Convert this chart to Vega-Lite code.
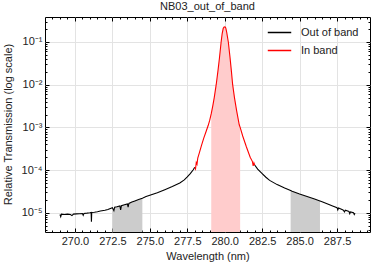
{
  "$schema": "https://vega.github.io/schema/vega-lite/v6.json",
  "width": 325,
  "height": 215,
  "autosize": {"type": "none"},
  "padding": {"left": 45, "top": 17, "right": 4, "bottom": 33},
  "background": "white",
  "config": {
    "font": "Liberation Sans",
    "view": {"stroke": "black", "strokeWidth": 1},
    "axis": {"labelFont": "Liberation Sans", "titleFont": "Liberation Sans", "labelColor": "#222", "titleColor": "#222", "titleFontWeight": "normal"}
  },
  "title": {"text": "NB03_out_of_band", "fontSize": 11, "fontWeight": "normal", "font": "Liberation Sans", "color": "#222", "baseline": "alphabetic", "offset": 5, "dy": 9},
  "data": {"values": [
    {"wl": 269.0, "t": 9.1e-6, "seg": "L", "band": "Out of band"},
    {"wl": 269.05, "t": 8.1e-6, "seg": "L", "band": "Out of band"},
    {"wl": 269.1, "t": 9.3e-6, "seg": "L", "band": "Out of band"},
    {"wl": 269.3, "t": 9.1e-6, "seg": "L", "band": "Out of band"},
    {"wl": 269.5, "t": 9.3e-6, "seg": "L", "band": "Out of band"},
    {"wl": 269.7, "t": 9.1e-6, "seg": "L", "band": "Out of band"},
    {"wl": 269.8, "t": 8.6e-6, "seg": "L", "band": "Out of band"},
    {"wl": 269.9, "t": 9.3e-6, "seg": "L", "band": "Out of band"},
    {"wl": 270.1, "t": 9.45e-6, "seg": "L", "band": "Out of band"},
    {"wl": 270.3, "t": 9.5e-6, "seg": "L", "band": "Out of band"},
    {"wl": 270.5, "t": 9.55e-6, "seg": "L", "band": "Out of band"},
    {"wl": 270.55, "t": 8.7e-6, "seg": "L", "band": "Out of band"},
    {"wl": 270.6, "t": 9.65e-6, "seg": "L", "band": "Out of band"},
    {"wl": 270.8, "t": 9.8e-6, "seg": "L", "band": "Out of band"},
    {"wl": 271.0, "t": 1.0e-5, "seg": "L", "band": "Out of band"},
    {"wl": 271.08, "t": 1.02e-5, "seg": "L", "band": "Out of band"},
    {"wl": 271.1, "t": 6.2e-6, "seg": "L", "band": "Out of band"},
    {"wl": 271.12, "t": 1.02e-5, "seg": "L", "band": "Out of band"},
    {"wl": 271.3, "t": 1.03e-5, "seg": "L", "band": "Out of band"},
    {"wl": 271.5, "t": 1.06e-5, "seg": "L", "band": "Out of band"},
    {"wl": 271.7, "t": 1.1e-5, "seg": "L", "band": "Out of band"},
    {"wl": 272.0, "t": 1.15e-5, "seg": "L", "band": "Out of band"},
    {"wl": 272.2, "t": 1.2e-5, "seg": "L", "band": "Out of band"},
    {"wl": 272.5, "t": 1.32e-5, "seg": "L", "band": "Out of band"},
    {"wl": 272.6, "t": 1.12e-5, "seg": "L", "band": "Out of band"},
    {"wl": 272.65, "t": 1.35e-5, "seg": "L", "band": "Out of band"},
    {"wl": 272.8, "t": 1.38e-5, "seg": "L", "band": "Out of band"},
    {"wl": 273.0, "t": 1.45e-5, "seg": "L", "band": "Out of band"},
    {"wl": 273.05, "t": 1.17e-5, "seg": "L", "band": "Out of band"},
    {"wl": 273.1, "t": 1.46e-5, "seg": "L", "band": "Out of band"},
    {"wl": 273.3, "t": 1.55e-5, "seg": "L", "band": "Out of band"},
    {"wl": 273.5, "t": 1.62e-5, "seg": "L", "band": "Out of band"},
    {"wl": 273.55, "t": 1.35e-5, "seg": "L", "band": "Out of band"},
    {"wl": 273.6, "t": 1.66e-5, "seg": "L", "band": "Out of band"},
    {"wl": 273.8, "t": 1.78e-5, "seg": "L", "band": "Out of band"},
    {"wl": 274.0, "t": 1.9e-5, "seg": "L", "band": "Out of band"},
    {"wl": 274.25, "t": 2.04e-5, "seg": "L", "band": "Out of band"},
    {"wl": 274.5, "t": 2.2e-5, "seg": "L", "band": "Out of band"},
    {"wl": 274.75, "t": 2.4e-5, "seg": "L", "band": "Out of band"},
    {"wl": 275.0, "t": 2.57e-5, "seg": "L", "band": "Out of band"},
    {"wl": 275.5, "t": 2.95e-5, "seg": "L", "band": "Out of band"},
    {"wl": 276.0, "t": 3.47e-5, "seg": "L", "band": "Out of band"},
    {"wl": 276.5, "t": 4.12e-5, "seg": "L", "band": "Out of band"},
    {"wl": 277.0, "t": 5.0e-5, "seg": "L", "band": "Out of band"},
    {"wl": 277.3, "t": 5.9e-5, "seg": "L", "band": "Out of band"},
    {"wl": 277.5, "t": 6.9e-5, "seg": "L", "band": "Out of band"},
    {"wl": 277.7, "t": 8.3e-5, "seg": "L", "band": "Out of band"},
    {"wl": 277.9, "t": 1.02e-4, "seg": "L", "band": "Out of band"},
    {"wl": 278.0, "t": 1.17e-4, "seg": "L", "band": "Out of band"},
    {"wl": 278.0, "t": 1.17e-4, "seg": "M", "band": "In band"},
    {"wl": 278.05, "t": 1.07e-4, "seg": "M", "band": "In band"},
    {"wl": 278.1, "t": 1.51e-4, "seg": "M", "band": "In band"},
    {"wl": 278.15, "t": 1.38e-4, "seg": "M", "band": "In band"},
    {"wl": 278.2, "t": 1.9e-4, "seg": "M", "band": "In band"},
    {"wl": 278.3, "t": 2.5e-4, "seg": "M", "band": "In band"},
    {"wl": 278.45, "t": 3.8e-4, "seg": "M", "band": "In band"},
    {"wl": 278.6, "t": 5.6e-4, "seg": "M", "band": "In band"},
    {"wl": 278.75, "t": 7.9e-4, "seg": "M", "band": "In band"},
    {"wl": 278.9, "t": 1.12e-3, "seg": "M", "band": "In band"},
    {"wl": 279.0, "t": 1.48e-3, "seg": "M", "band": "In band"},
    {"wl": 279.1, "t": 2.1e-3, "seg": "M", "band": "In band"},
    {"wl": 279.2, "t": 3.16e-3, "seg": "M", "band": "In band"},
    {"wl": 279.3, "t": 5.0e-3, "seg": "M", "band": "In band"},
    {"wl": 279.43, "t": 1.0e-2, "seg": "M", "band": "In band"},
    {"wl": 279.55, "t": 2.14e-2, "seg": "M", "band": "In band"},
    {"wl": 279.65, "t": 4.27e-2, "seg": "M", "band": "In band"},
    {"wl": 279.76, "t": 0.1, "seg": "M", "band": "In band"},
    {"wl": 279.83, "t": 0.158, "seg": "M", "band": "In band"},
    {"wl": 279.9, "t": 0.209, "seg": "M", "band": "In band"},
    {"wl": 279.96, "t": 0.224, "seg": "M", "band": "In band"},
    {"wl": 280.02, "t": 0.2265, "seg": "M", "band": "In band"},
    {"wl": 280.07, "t": 0.214, "seg": "M", "band": "In band"},
    {"wl": 280.13, "t": 0.17, "seg": "M", "band": "In band"},
    {"wl": 280.24, "t": 0.1, "seg": "M", "band": "In band"},
    {"wl": 280.35, "t": 0.0447, "seg": "M", "band": "In band"},
    {"wl": 280.45, "t": 0.02, "seg": "M", "band": "In band"},
    {"wl": 280.53, "t": 0.01, "seg": "M", "band": "In band"},
    {"wl": 280.65, "t": 5.0e-3, "seg": "M", "band": "In band"},
    {"wl": 280.8, "t": 2.4e-3, "seg": "M", "band": "In band"},
    {"wl": 280.97, "t": 1.15e-3, "seg": "M", "band": "In band"},
    {"wl": 281.03, "t": 1.0e-3, "seg": "M", "band": "In band"},
    {"wl": 281.2, "t": 6.3e-4, "seg": "M", "band": "In band"},
    {"wl": 281.45, "t": 3.47e-4, "seg": "M", "band": "In band"},
    {"wl": 281.7, "t": 2.0e-4, "seg": "M", "band": "In band"},
    {"wl": 281.85, "t": 1.58e-4, "seg": "M", "band": "In band"},
    {"wl": 281.9, "t": 1.26e-4, "seg": "M", "band": "In band"},
    {"wl": 281.95, "t": 1.48e-4, "seg": "M", "band": "In band"},
    {"wl": 282.0, "t": 1.32e-4, "seg": "M", "band": "In band"},
    {"wl": 282.0, "t": 1.32e-4, "seg": "R", "band": "Out of band"},
    {"wl": 282.2, "t": 1.05e-4, "seg": "R", "band": "Out of band"},
    {"wl": 282.5, "t": 8.3e-5, "seg": "R", "band": "Out of band"},
    {"wl": 282.75, "t": 6.8e-5, "seg": "R", "band": "Out of band"},
    {"wl": 283.0, "t": 5.75e-5, "seg": "R", "band": "Out of band"},
    {"wl": 283.5, "t": 4.57e-5, "seg": "R", "band": "Out of band"},
    {"wl": 284.0, "t": 3.8e-5, "seg": "R", "band": "Out of band"},
    {"wl": 284.4, "t": 3.31e-5, "seg": "R", "band": "Out of band"},
    {"wl": 284.5, "t": 3.2e-5, "seg": "R", "band": "Out of band"},
    {"wl": 285.0, "t": 2.75e-5, "seg": "R", "band": "Out of band"},
    {"wl": 285.5, "t": 2.4e-5, "seg": "R", "band": "Out of band"},
    {"wl": 286.0, "t": 2.11e-5, "seg": "R", "band": "Out of band"},
    {"wl": 286.36, "t": 1.9e-5, "seg": "R", "band": "Out of band"},
    {"wl": 286.5, "t": 1.82e-5, "seg": "R", "band": "Out of band"},
    {"wl": 287.0, "t": 1.55e-5, "seg": "R", "band": "Out of band"},
    {"wl": 287.2, "t": 1.45e-5, "seg": "R", "band": "Out of band"},
    {"wl": 287.5, "t": 1.32e-5, "seg": "R", "band": "Out of band"},
    {"wl": 287.55, "t": 1.17e-5, "seg": "R", "band": "Out of band"},
    {"wl": 287.6, "t": 1.29e-5, "seg": "R", "band": "Out of band"},
    {"wl": 287.9, "t": 1.17e-5, "seg": "R", "band": "Out of band"},
    {"wl": 288.0, "t": 1.05e-5, "seg": "R", "band": "Out of band"},
    {"wl": 288.05, "t": 1.15e-5, "seg": "R", "band": "Out of band"},
    {"wl": 288.3, "t": 1.07e-5, "seg": "R", "band": "Out of band"},
    {"wl": 288.35, "t": 9.5e-6, "seg": "R", "band": "Out of band"},
    {"wl": 288.4, "t": 1.05e-5, "seg": "R", "band": "Out of band"},
    {"wl": 288.6, "t": 1.0e-5, "seg": "R", "band": "Out of band"},
    {"wl": 288.65, "t": 9.1e-6, "seg": "R", "band": "Out of band"},
    {"wl": 288.7, "t": 9.8e-6, "seg": "R", "band": "Out of band"}
  ]},
  "resolve": {"axis": {"x": "independent", "y": "independent"}},
  "layer": [
    {
      "transform": [{"filter": {"field": "wl", "range": [272.5, 274.5]}}, {"filter": {"field": "seg", "equal": "L"}}],
      "mark": {"type": "area", "color": "#cccccc", "opacity": 1},
      "encoding": {
        "x": {"field": "wl", "type": "quantitative", "scale": {"domain": [268.0, 289.7], "nice": false, "zero": false},
              "axis": {"orient": "top", "values": [270, 272.5, 275, 277.5, 280, 282.5, 285, 287.5], "labels": false, "grid": false, "domain": false, "tickSize": -4, "tickColor": "black", "title": null}},
        "y": {"field": "t", "type": "quantitative", "scale": {"type": "log", "domain": [3.55e-6, 0.385], "nice": false},
              "axis": {"orient": "right", "values": [1e-5, 1e-4, 1e-3, 1e-2, 1e-1], "labels": false, "grid": false, "domain": false, "tickSize": -4, "tickColor": "black", "title": null}},
        "y2": {"datum": 3.55e-6}
      }
    },
    {
      "transform": [{"filter": {"field": "wl", "range": [284.4, 286.36]}}, {"filter": {"field": "seg", "equal": "R"}}],
      "mark": {"type": "area", "color": "#cccccc", "opacity": 1},
      "encoding": {
        "x": {"field": "wl", "type": "quantitative",
              "axis": {"orient": "bottom", "values": [268.5, 269, 269.5, 270.5, 271, 271.5, 272, 273, 273.5, 274, 274.5, 275.5, 276, 276.5, 277, 278, 278.5, 279, 279.5, 280.5, 281, 281.5, 282, 283, 283.5, 284, 284.5, 285.5, 286, 286.5, 287, 288, 288.5, 289, 289.5], "labels": false, "grid": false, "domain": false, "tickSize": -2, "tickColor": "black", "title": null}},
        "y": {"field": "t", "type": "quantitative",
              "axis": {"orient": "left", "values": [4e-6, 5e-6, 6e-6, 7e-6, 8e-6, 9e-6, 2e-5, 3e-5, 4e-5, 5e-5, 6e-5, 7e-5, 8e-5, 9e-5, 2e-4, 3e-4, 4e-4, 5e-4, 6e-4, 7e-4, 8e-4, 9e-4, 2e-3, 3e-3, 4e-3, 5e-3, 6e-3, 7e-3, 8e-3, 9e-3, 2e-2, 3e-2, 4e-2, 5e-2, 6e-2, 7e-2, 8e-2, 9e-2, 2e-1, 3e-1], "labels": false, "grid": false, "domain": false, "tickSize": -2, "tickColor": "black", "title": null}},
        "y2": {"datum": 3.55e-6}
      }
    },
    {
      "transform": [{"filter": {"field": "wl", "range": [279.1, 281.03]}}, {"filter": {"field": "seg", "equal": "M"}}],
      "mark": {"type": "area", "color": "#ffcccc", "opacity": 1},
      "encoding": {
        "x": {"field": "wl", "type": "quantitative",
              "axis": {"orient": "top", "values": [268.5, 269, 269.5, 270.5, 271, 271.5, 272, 273, 273.5, 274, 274.5, 275.5, 276, 276.5, 277, 278, 278.5, 279, 279.5, 280.5, 281, 281.5, 282, 283, 283.5, 284, 284.5, 285.5, 286, 286.5, 287, 288, 288.5, 289, 289.5], "labels": false, "grid": false, "domain": false, "tickSize": -2, "tickColor": "black", "title": null}},
        "y": {"field": "t", "type": "quantitative",
              "axis": {"orient": "right", "values": [4e-6, 5e-6, 6e-6, 7e-6, 8e-6, 9e-6, 2e-5, 3e-5, 4e-5, 5e-5, 6e-5, 7e-5, 8e-5, 9e-5, 2e-4, 3e-4, 4e-4, 5e-4, 6e-4, 7e-4, 8e-4, 9e-4, 2e-3, 3e-3, 4e-3, 5e-3, 6e-3, 7e-3, 8e-3, 9e-3, 2e-2, 3e-2, 4e-2, 5e-2, 6e-2, 7e-2, 8e-2, 9e-2, 2e-1, 3e-1], "labels": false, "grid": false, "domain": false, "tickSize": -2, "tickColor": "black", "title": null}},
        "y2": {"datum": 3.55e-6}
      }
    },
    {
      "mark": {"type": "line", "strokeWidth": 1.1, "clip": true},
      "encoding": {
        "x": {"field": "wl", "type": "quantitative",
              "axis": {"orient": "bottom", "values": [270, 272.5, 275, 277.5, 280, 282.5, 285, 287.5], "format": ".1f", "grid": true, "gridColor": "#e3e3e3", "gridWidth": 1, "domain": false, "tickSize": -4, "tickColor": "black", "labelFontSize": 11, "labelPadding": 7, "title": "Wavelength (nm)", "titleFontSize": 11, "titleY": 24, "titleBaseline": "middle"}},
        "y": {"field": "t", "type": "quantitative",
              "axis": {"orient": "left", "values": [1e-5, 1e-4, 1e-3, 1e-2, 1e-1], "labelExpr": "'10⁻' + ['⁰','¹','²','³','⁴','⁵','⁶'][round(-log(datum.value)/LN10)]", "grid": true, "gridColor": "#e3e3e3", "gridWidth": 1, "domain": false, "tickSize": -4, "tickColor": "black", "labelFontSize": 11, "labelPadding": 7, "title": "Relative Transmission (log scale)", "titleFontSize": 11, "titleX": -37, "titleY": 107, "titleBaseline": "middle", "titleAngle": -90}},
        "color": {"field": "band", "type": "nominal", "scale": {"domain": ["Out of band", "In band"], "range": ["black", "red"]},
                  "legend": {"title": null, "orient": "none", "legendX": 222, "legendY": 3, "symbolType": "stroke", "symbolSize": 550, "symbolStrokeWidth": 1.5, "labelFontSize": 11, "labelFont": "Liberation Sans", "labelColor": "#222", "labelOffset": 9, "rowPadding": -6, "padding": 0}},
        "detail": {"field": "seg", "type": "nominal"},
        "order": {"field": "wl", "type": "quantitative"}
      }
    }
  ]
}
